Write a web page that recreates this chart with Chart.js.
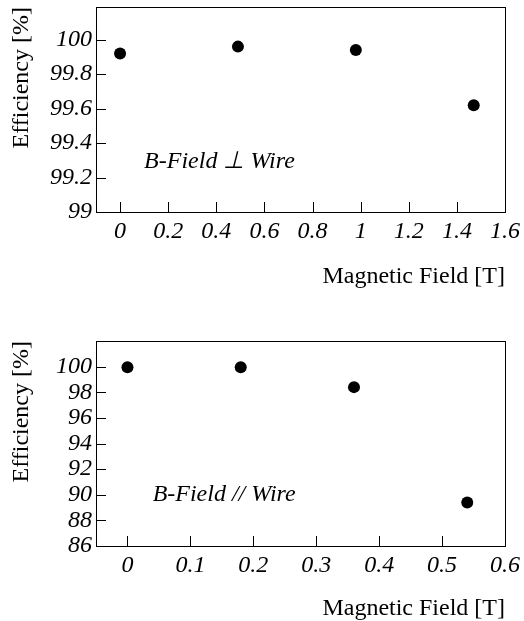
<!DOCTYPE html>
<html>
<head>
<meta charset="utf-8">
<script src="https://cdn.jsdelivr.net/npm/chart.js@4.4.0/dist/chart.umd.min.js"></script>
<style>
  body { margin: 0; background: #fff; }
  canvas { position: absolute; left: 0; }
  #perpChart { top: 0; }
  #paraChart { top: 300px; }
</style>
</head>
<body>
<canvas id="perpChart" width="524" height="300"></canvas>
<canvas id="paraChart" width="524" height="321"></canvas>
<script>
// B-field perpendicular to wire
const perpField = [0, 0.49, 0.98, 1.47];
const perpEff = [99.92, 99.96, 99.94, 99.62];
const perpXTicks = [0, 0.2, 0.4, 0.6, 0.8, 1, 1.2, 1.4, 1.6];
const perpYTicks = [99, 99.2, 99.4, 99.6, 99.8, 100];

// B-field parallel to wire
const paraField = [0, 0.18, 0.36, 0.54];
const paraEff = [99.95, 99.95, 98.4, 89.4];
const paraXTicks = [0, 0.1, 0.2, 0.3, 0.4, 0.5, 0.6];
const paraYTicks = [86, 88, 90, 92, 94, 96, 98, 100];

const xTitle = 'Magnetic Field [T]';
const yTitle = 'Efficiency [%]';

Chart.defaults.color = '#000';
Chart.defaults.font.family = '"Liberation Serif", "Times New Roman", serif';

// box around the plot, inward ticks and the label inside
const framePlugin = {
    id: 'frame',
    beforeDatasetsDraw(chart, args, opts) {
        const { ctx, chartArea: a, scales: { x, y } } = chart;
        ctx.save();
        ctx.strokeStyle = '#000';
        ctx.lineWidth = 1;
        ctx.strokeRect(a.left + 0.5, a.top + 0.5, a.width, a.height);
        ctx.beginPath();
        x.ticks.forEach(t => {
            const px = Math.round(x.getPixelForValue(t.value)) + 0.5;
            ctx.moveTo(px, a.bottom);
            ctx.lineTo(px, a.bottom - 10);
        });
        y.ticks.forEach(t => {
            const py = Math.round(y.getPixelForValue(t.value)) + 0.5;
            ctx.moveTo(a.left, py);
            ctx.lineTo(a.left + 10, py);
        });
        ctx.stroke();
        ctx.font = 'italic 24px "Liberation Serif", serif';
        ctx.fillStyle = '#000';
        ctx.textAlign = 'left';
        ctx.textBaseline = 'middle';
        ctx.fillText(opts.text, x.getPixelForValue(opts.x), y.getPixelForValue(opts.y));
        ctx.restore();
    }
};

function makeChart(id, field, eff, xTicks, yTicks, xRange, yRange, note, cfg) {
    const ctx = document.getElementById(id).getContext('2d');
    return new Chart(ctx, {
        type: 'scatter',
        data: {
            datasets: [{
                data: field.map((f, i) => ({ x: f, y: eff[i] })),
                backgroundColor: '#000',
                borderWidth: 0,
                pointRadius: 6,
                pointHoverRadius: 6
            }]
        },
        options: {
            responsive: false,
            animation: false,
            layout: { padding: { top: cfg.top, right: 19, left: 0, bottom: 0 } },
            plugins: {
                legend: { display: false },
                tooltip: { enabled: false },
                frame: note
            },
            scales: {
                x: {
                    type: 'linear',
                    min: xRange[0],
                    max: xRange[1],
                    grid: { display: false, drawTicks: false },
                    border: { display: false },
                    afterBuildTicks: s => { s.ticks = xTicks.map(v => ({ value: v })); },
                    afterFit: s => { s.height = cfg.xHeight; s.paddingLeft = 0; s.paddingRight = 0; },
                    ticks: {
                        padding: 5,
                        maxRotation: 0,
                        autoSkip: false,
                        font: { size: 24, style: 'italic', lineHeight: 1.2 },
                        callback: v => String(v)
                    },
                    title: {
                        display: true,
                        text: xTitle,
                        align: 'end',
                        font: { size: 24, lineHeight: 1 },
                        padding: { top: 0, bottom: cfg.xTitlePad }
                    }
                },
                y: {
                    type: 'linear',
                    min: yRange[0],
                    max: yRange[1],
                    grid: { display: false, drawTicks: false },
                    border: { display: false },
                    afterBuildTicks: s => { s.ticks = yTicks.map(v => ({ value: v })); },
                    afterFit: s => { s.width = 96; s.paddingTop = 0; s.paddingBottom = 0; },
                    ticks: {
                        padding: 4,
                        autoSkip: false,
                        font: { size: 24, style: 'italic', lineHeight: 1.2 },
                        callback: v => String(v)
                    },
                    title: {
                        display: true,
                        text: yTitle,
                        align: 'end',
                        font: { size: 24, lineHeight: 1 },
                        padding: { top: 10, bottom: 0 }
                    }
                }
            }
        },
        plugins: [framePlugin]
    });
}

makeChart('perpChart', perpField, perpEff, perpXTicks, perpYTicks, [-0.1, 1.6], [99, 100.19],
    { text: 'B-Field \u22A5 Wire', x: 0.1, y: 99.29 },
    { top: 7, xHeight: 88, xTitlePad: 11 });

makeChart('paraChart', paraField, paraEff, paraXTicks, paraYTicks, [-0.05, 0.6], [86, 102],
    { text: 'B-Field // Wire', x: 0.04, y: 90 },
    { top: 41, xHeight: 75, xTitlePad: 0 });
</script>
</body>
</html>
